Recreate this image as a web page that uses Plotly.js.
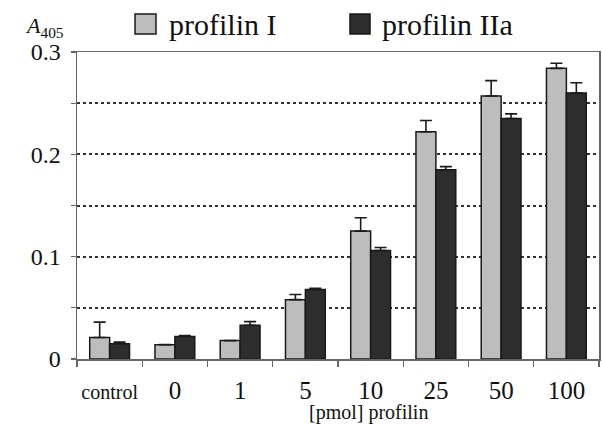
<!DOCTYPE html>
<html>
<head>
<meta charset="utf-8">
<script src="https://cdn.plot.ly/plotly-3.0.1.min.js"></script>
<style>html,body{margin:0;padding:0;background:#fff;}#chart{width:602px;height:425px;}</style>
</head>
<body>
<div id="chart"></div>
<script>
// ---- data ----
const categories = ['control', '0', '1', '5', '10', '25', '50', '100'];
const seriesNames = ['profilin I', 'profilin IIa'];
const profilinI = [0.021, 0.014, 0.018, 0.058, 0.125, 0.222, 0.257, 0.284];
const profilinIErr = [0.015, 0, 0, 0.005, 0.013, 0.011, 0.015, 0.005];
const profilinIIa = [0.015, 0.022, 0.033, 0.068, 0.106, 0.185, 0.235, 0.260];
const profilinIIaErr = [0.0015, 0.001, 0.0035, 0.001, 0.003, 0.003, 0.0045, 0.010];
const yTickVals = [0, 0.05, 0.1, 0.15, 0.2, 0.25, 0.3];
const yTickText = ['0', '', '0.1', '', '0.2', '', '0.3'];
const xTitle = '[pmol] profilin';
const yTitle = '<i>A</i><sub>405</sub>';

// ---- layout helpers ----
const M = {l: 77, r: 3, t: 52, b: 66};
const W = 602, H = 425;
const pw = W - M.l - M.r, ph = H - M.t - M.b;
const px = x => (x - M.l) / pw;
const py = y => (H - M.b - y) / ph;
const FONT = 'Liberation Serif';
const colors = ['#bdbdbd', '#2d2d2d'];

const tickText = categories.map(c => c === 'control' ? '<span style="font-size:20px">' + c + '</span>' : c);

function barTrace(name, vals, errs, color) {
  return {
    type: 'bar', name: name, x: categories, y: vals,
    marker: {color: color, line: {color: '#1a1a1a', width: 1.5}},
    error_y: {type: 'data', symmetric: false, array: errs, arrayminus: errs.map(() => 0),
              color: '#1a1a1a', thickness: 1.6, width: 6},
    showlegend: false
  };
}

const data = [
  barTrace(seriesNames[0], profilinI, profilinIErr, colors[0]),
  barTrace(seriesNames[1], profilinIIa, profilinIIaErr, colors[1])
];

const layout = {
  width: W, height: H, margin: M,
  paper_bgcolor: '#fff', plot_bgcolor: '#fff',
  font: {family: FONT, color: '#111', size: 23},
  barmode: 'group', bargap: 0.39, bargroupgap: 0,
  xaxis: {
    type: 'category', tickvals: categories, ticktext: tickText, tickangle: 0,
    tickson: 'boundaries', ticks: 'outside', ticklen: 6, tickcolor: '#666', tickwidth: 1.2,
    showline: true, linecolor: '#666', linewidth: 1.5, mirror: true,
    showgrid: false, zeroline: false, ticklabelstandoff: 8,
    tickfont: {size: 25, family: FONT, color: '#111'}
  },
  yaxis: {
    range: [0, 0.3], tickvals: yTickVals, ticktext: yTickText,
    ticks: 'outside', ticklen: 5, tickcolor: '#666', tickwidth: 1.2,
    showline: true, linecolor: '#666', linewidth: 1.5, mirror: true,
    showgrid: true, gridcolor: '#333', griddash: 'dot', gridwidth: 2,
    zeroline: false, ticklabelstandoff: 5,
    tickfont: {size: 24, family: FONT, color: '#111'}
  },
  shapes: [
    {type: 'rect', xref: 'paper', yref: 'paper', x0: px(135), x1: px(156), y0: py(34), y1: py(14),
     fillcolor: colors[0], line: {color: '#1a1a1a', width: 1.5}},
    {type: 'rect', xref: 'paper', yref: 'paper', x0: px(350), x1: px(370), y0: py(34), y1: py(14),
     fillcolor: colors[1], line: {color: '#1a1a1a', width: 1.5}}
  ],
  annotations: [
    {xref: 'paper', yref: 'paper', x: px(167), y: py(25), xanchor: 'left', yanchor: 'middle',
     text: seriesNames[0], showarrow: false, font: {size: 30, family: FONT}},
    {xref: 'paper', yref: 'paper', x: px(380), y: py(25), xanchor: 'left', yanchor: 'middle',
     text: seriesNames[1], showarrow: false, font: {size: 30, family: FONT}},
    {xref: 'paper', yref: 'paper', x: px(66), y: py(27), xanchor: 'right', yanchor: 'middle',
     text: yTitle, showarrow: false, font: {size: 22, family: FONT}},
    {xref: 'paper', yref: 'paper', x: px(368), y: py(412), xanchor: 'center', yanchor: 'middle',
     text: xTitle, showarrow: false, font: {size: 20, family: FONT}}
  ]
};

Plotly.newPlot('chart', data, layout, {staticPlot: true});
</script>
</body>
</html>
